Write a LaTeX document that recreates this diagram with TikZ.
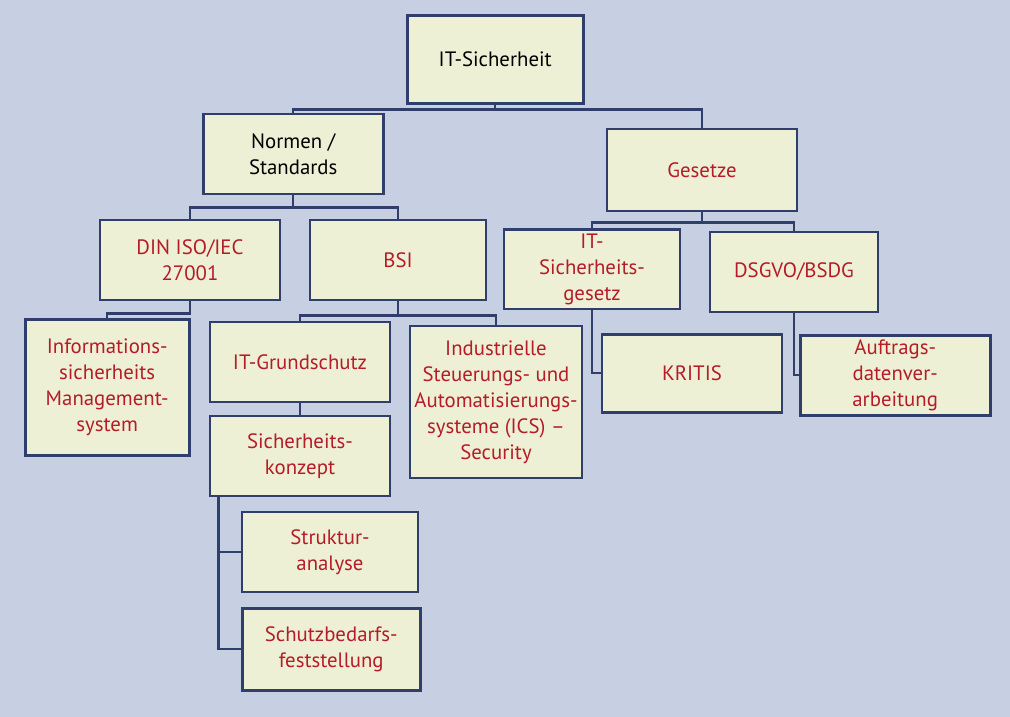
\documentclass[tikz,border=0pt]{standalone}
\usepackage{fontspec}
\setmainfont{PT Sans}
\definecolor{pagebg}{RGB}{199, 207, 227}
\definecolor{boxfill}{RGB}{238, 240, 214}
\definecolor{boxline}{RGB}{48, 62, 108}
\definecolor{textred}{RGB}{180, 28, 40}
\usetikzlibrary{positioning}

\begin{document}
\begin{tikzpicture}[
  box/.style={draw=boxline, fill=boxfill, line width=1.9pt, align=center,
              inner sep=3pt, text=textred, minimum width=4.4cm, minimum height=2cm,
              font=\fontsize{14.8}{18.5}\selectfont},
  link/.style={draw=boxline, line width=1.8pt},
]
\fill[pagebg] (0,0) rectangle (25.25,-17.925);

% Top levels
\node[box, text=black, minimum width=4.4cm, minimum height=2.2cm] (sich) at (12.38, -1.48) {IT-Sicherheit};
\node[box, text=black, minimum width=4.5cm] (normen) at (7.33, -3.85) {Normen /\\Standards};
\node[box, minimum width=4.75cm, minimum height=2.05cm] (gesetze) at (17.55, -4.25) {Gesetze};

\draw[link] (sich.south) -- ++(0,-0.12) coordinate (b1) -| (normen.north);
\draw[link] (b1) -| (gesetze.north);

% Normen / Standards
\node[box, minimum width=4.5cm] (din) at (4.75, -6.5) {DIN ISO/IEC\\27001};
\node[box] (bsi) at (9.95, -6.5) {BSI};

\draw[link] (normen.south) -- ++(0,-0.3) coordinate (b2) -| (din.north);
\draw[link] (b2) -| (bsi.north);

% Gesetze
\node[box, minimum height=1.95cm] (itsig) at (14.8, -6.73) {IT-\\Sicherheits-\\gesetz};
\node[box, minimum width=4.2cm] (dsgvo) at (19.85, -6.8) {DSGVO/BSDG};

\draw[link] (gesetze.south) -- ++(0,-0.25) coordinate (b3) -| (itsig.north);
\draw[link] (b3) -| (dsgvo.north);

% DIN ISO/IEC 27001
\node[box, minimum width=4.1cm, minimum height=3.4cm] (isms) at (2.68, -9.68)
  {Informations-\\sicherheits\\Management-\\system};
\draw[link] (din.south) -- ++(0,-0.3) -| (isms.north);

% BSI
\node[box, minimum width=4.5cm] (grund) at (7.5, -9.05) {IT-Grundschutz};
\node[box, minimum width=4.3cm, minimum height=3.8cm] (ics) at (12.4, -10.05)
  {Industrielle\\Steuerungs- und\\Automatisierungs-\\systeme (ICS) --\\Security};

\draw[link] (bsi.south) -- ++(0,-0.35) coordinate (b4) -| (grund.north);
\draw[link] (b4) -| (ics.north);

% IT-Grundschutz
\node[box, minimum width=4.5cm] (konzept) at (7.5, -11.4) {Sicherheits-\\konzept};
\node[box] (struktur) at (8.25, -13.8) {Struktur-\\analyse};
\node[box, minimum width=4.45cm, minimum height=2.05cm] (schutz) at (8.28, -16.23) {Schutzbedarfs-\\feststellung};

\draw[link] (grund) -- (konzept);
\draw[link] ([xshift=0.25cm]konzept.south west) |- (struktur.west);
\draw[link] ([xshift=0.25cm]konzept.south west) |- (schutz.west);

% Gesetze unten
\node[box, minimum width=4.5cm, minimum height=1.95cm] (kritis) at (17.3, -9.33) {KRITIS};
\node[box, minimum width=4.75cm] (auftrag) at (22.38, -9.38) {Auftrags-\\datenver-\\arbeitung};

\draw[link] (itsig.south) |- (kritis.west);
\draw[link] (dsgvo.south) |- (auftrag.west);
\end{tikzpicture}
\end{document}
